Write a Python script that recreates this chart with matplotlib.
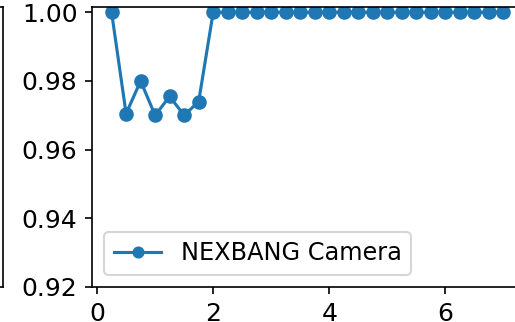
import matplotlib
matplotlib.use("Agg")
import matplotlib.pyplot as plt
import numpy as np

# accuracy per time step
steps = np.arange(0.25, 7.01, 0.25)
accuracy = [1.0, 0.9705, 0.980, 0.970, 0.9755, 0.970, 0.974] + [1.0] * 21
label = "NEXBANG Camera"

plt.rcParams["font.size"] = 12

fig = plt.figure(figsize=(515 / 150, 322 / 150), dpi=150)

# neighbouring panel (only its right edge is visible)
left = fig.add_axes([-0.6, 0.1087, 0.6 + 3 / 515, 0.869])
left.set_xticks([])
left.set_yticks([])

ax = fig.add_axes([92 / 515, 0.1087, 431 / 515, 0.869])
ax.plot(steps, accuracy, marker="o", label=label)
ax.set_ylim(bottom=0.92)
ax.set_yticks([0.92, 0.94, 0.96, 0.98, 1.00])
ax.set_xticks([0, 2, 4, 6])
ax.legend(loc="lower left", fontsize=11.5, markerscale=0.8)

fig.savefig("out.png", dpi=150)
